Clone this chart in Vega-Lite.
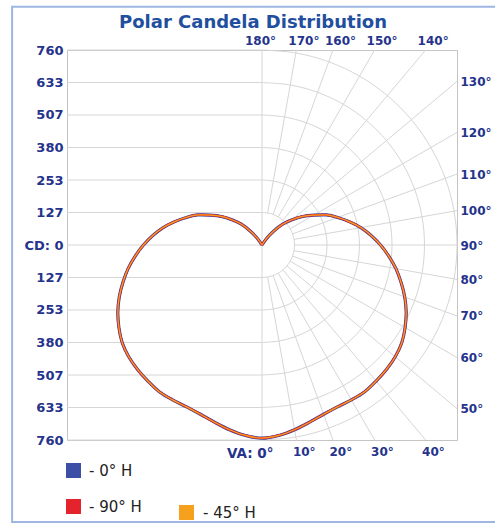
{
  "$schema": "https://vega.github.io/schema/vega-lite/v6.json",
  "width": 390,
  "height": 390,
  "autosize": {"type": "none"},
  "padding": {"left": 67, "top": 50, "right": 38, "bottom": 85},
  "background": "white",
  "config": {
    "view": {"stroke": "#c4c4c4", "strokeWidth": 1},
    "font": "DejaVu Sans",
    "axis": {"labelFont": "DejaVu Sans", "labelFontSize": 12, "labelFontWeight": "bold", "labelColor": "#25338c", "domain": false, "ticks": false, "grid": false, "title": null, "labelFlush": false, "labelOverlap": false}
  },
  "title": {"text": "Polar Candela Distribution", "font": "DejaVu Sans", "fontSize": 18, "fontWeight": "bold", "color": "#1f4f9e", "anchor": "middle", "frame": "group", "dx": -9, "offset": -26},
  "datasets": {
    "hgrid": [{"cd": -760}, {"cd": -633.33}, {"cd": -506.67}, {"cd": -380}, {"cd": -253.33}, {"cd": -126.67}, {"cd": 0}, {"cd": 126.67}, {"cd": 253.33}, {"cd": 380}, {"cd": 506.67}, {"cd": 633.33}, {"cd": 760}],
    "arcs": [
      {"r": 126.67, "o": 0, "x": 0, "y": -126.7}, {"r": 126.67, "o": 10, "x": 22.0, "y": -124.7}, {"r": 126.67, "o": 20, "x": 43.3, "y": -119.0}, {"r": 126.67, "o": 30, "x": 63.3, "y": -109.7}, {"r": 126.67, "o": 40, "x": 81.4, "y": -97.0}, {"r": 126.67, "o": 50, "x": 97.0, "y": -81.4}, {"r": 126.67, "o": 60, "x": 109.7, "y": -63.3}, {"r": 126.67, "o": 70, "x": 119.0, "y": -43.3}, {"r": 126.67, "o": 80, "x": 124.7, "y": -22.0}, {"r": 126.67, "o": 90, "x": 126.7, "y": 0}, {"r": 126.67, "o": 100, "x": 124.7, "y": 22.0}, {"r": 126.67, "o": 110, "x": 119.0, "y": 43.3}, {"r": 126.67, "o": 120, "x": 109.7, "y": 63.3}, {"r": 126.67, "o": 130, "x": 97.0, "y": 81.4}, {"r": 126.67, "o": 140, "x": 81.4, "y": 97.0}, {"r": 126.67, "o": 150, "x": 63.3, "y": 109.7}, {"r": 126.67, "o": 160, "x": 43.3, "y": 119.0}, {"r": 126.67, "o": 170, "x": 22.0, "y": 124.7}, {"r": 126.67, "o": 180, "x": 0, "y": 126.7},
      {"r": 253.33, "o": 0, "x": 0, "y": -253.3}, {"r": 253.33, "o": 10, "x": 44.0, "y": -249.5}, {"r": 253.33, "o": 20, "x": 86.6, "y": -238.1}, {"r": 253.33, "o": 30, "x": 126.7, "y": -219.4}, {"r": 253.33, "o": 40, "x": 162.8, "y": -194.1}, {"r": 253.33, "o": 50, "x": 194.1, "y": -162.8}, {"r": 253.33, "o": 60, "x": 219.4, "y": -126.7}, {"r": 253.33, "o": 70, "x": 238.1, "y": -86.6}, {"r": 253.33, "o": 80, "x": 249.5, "y": -44.0}, {"r": 253.33, "o": 90, "x": 253.3, "y": 0}, {"r": 253.33, "o": 100, "x": 249.5, "y": 44.0}, {"r": 253.33, "o": 110, "x": 238.1, "y": 86.6}, {"r": 253.33, "o": 120, "x": 219.4, "y": 126.7}, {"r": 253.33, "o": 130, "x": 194.1, "y": 162.8}, {"r": 253.33, "o": 140, "x": 162.8, "y": 194.1}, {"r": 253.33, "o": 150, "x": 126.7, "y": 219.4}, {"r": 253.33, "o": 160, "x": 86.6, "y": 238.1}, {"r": 253.33, "o": 170, "x": 44.0, "y": 249.5}, {"r": 253.33, "o": 180, "x": 0, "y": 253.3},
      {"r": 380, "o": 0, "x": 0, "y": -380}, {"r": 380, "o": 10, "x": 66.0, "y": -374.2}, {"r": 380, "o": 20, "x": 130.0, "y": -357.1}, {"r": 380, "o": 30, "x": 190.0, "y": -329.1}, {"r": 380, "o": 40, "x": 244.3, "y": -291.1}, {"r": 380, "o": 50, "x": 291.1, "y": -244.3}, {"r": 380, "o": 60, "x": 329.1, "y": -190.0}, {"r": 380, "o": 70, "x": 357.1, "y": -130.0}, {"r": 380, "o": 80, "x": 374.2, "y": -66.0}, {"r": 380, "o": 90, "x": 380, "y": 0}, {"r": 380, "o": 100, "x": 374.2, "y": 66.0}, {"r": 380, "o": 110, "x": 357.1, "y": 130.0}, {"r": 380, "o": 120, "x": 329.1, "y": 190.0}, {"r": 380, "o": 130, "x": 291.1, "y": 244.3}, {"r": 380, "o": 140, "x": 244.3, "y": 291.1}, {"r": 380, "o": 150, "x": 190.0, "y": 329.1}, {"r": 380, "o": 160, "x": 130.0, "y": 357.1}, {"r": 380, "o": 170, "x": 66.0, "y": 374.2}, {"r": 380, "o": 180, "x": 0, "y": 380},
      {"r": 506.67, "o": 0, "x": 0, "y": -506.7}, {"r": 506.67, "o": 10, "x": 88.0, "y": -499.0}, {"r": 506.67, "o": 20, "x": 173.3, "y": -476.1}, {"r": 506.67, "o": 30, "x": 253.3, "y": -438.8}, {"r": 506.67, "o": 40, "x": 325.7, "y": -388.1}, {"r": 506.67, "o": 50, "x": 388.1, "y": -325.7}, {"r": 506.67, "o": 60, "x": 438.8, "y": -253.3}, {"r": 506.67, "o": 70, "x": 476.1, "y": -173.3}, {"r": 506.67, "o": 80, "x": 499.0, "y": -88.0}, {"r": 506.67, "o": 90, "x": 506.7, "y": 0}, {"r": 506.67, "o": 100, "x": 499.0, "y": 88.0}, {"r": 506.67, "o": 110, "x": 476.1, "y": 173.3}, {"r": 506.67, "o": 120, "x": 438.8, "y": 253.3}, {"r": 506.67, "o": 130, "x": 388.1, "y": 325.7}, {"r": 506.67, "o": 140, "x": 325.7, "y": 388.1}, {"r": 506.67, "o": 150, "x": 253.3, "y": 438.8}, {"r": 506.67, "o": 160, "x": 173.3, "y": 476.1}, {"r": 506.67, "o": 170, "x": 88.0, "y": 499.0}, {"r": 506.67, "o": 180, "x": 0, "y": 506.7},
      {"r": 633.33, "o": 0, "x": 0, "y": -633.3}, {"r": 633.33, "o": 10, "x": 110.0, "y": -623.7}, {"r": 633.33, "o": 20, "x": 216.6, "y": -595.1}, {"r": 633.33, "o": 30, "x": 316.7, "y": -548.5}, {"r": 633.33, "o": 40, "x": 407.1, "y": -485.2}, {"r": 633.33, "o": 50, "x": 485.2, "y": -407.1}, {"r": 633.33, "o": 60, "x": 548.5, "y": -316.7}, {"r": 633.33, "o": 70, "x": 595.1, "y": -216.6}, {"r": 633.33, "o": 80, "x": 623.7, "y": -110.0}, {"r": 633.33, "o": 90, "x": 633.3, "y": 0}, {"r": 633.33, "o": 100, "x": 623.7, "y": 110.0}, {"r": 633.33, "o": 110, "x": 595.1, "y": 216.6}, {"r": 633.33, "o": 120, "x": 548.5, "y": 316.7}, {"r": 633.33, "o": 130, "x": 485.2, "y": 407.1}, {"r": 633.33, "o": 140, "x": 407.1, "y": 485.2}, {"r": 633.33, "o": 150, "x": 316.7, "y": 548.5}, {"r": 633.33, "o": 160, "x": 216.6, "y": 595.1}, {"r": 633.33, "o": 170, "x": 110.0, "y": 623.7}, {"r": 633.33, "o": 180, "x": 0, "y": 633.3},
      {"r": 760, "o": 0, "x": 0, "y": -760}, {"r": 760, "o": 10, "x": 132.0, "y": -748.5}, {"r": 760, "o": 20, "x": 259.9, "y": -714.2}, {"r": 760, "o": 30, "x": 380.0, "y": -658.2}, {"r": 760, "o": 40, "x": 488.5, "y": -582.2}, {"r": 760, "o": 50, "x": 582.2, "y": -488.5}, {"r": 760, "o": 60, "x": 658.2, "y": -380.0}, {"r": 760, "o": 70, "x": 714.2, "y": -259.9}, {"r": 760, "o": 80, "x": 748.5, "y": -132.0}, {"r": 760, "o": 90, "x": 760, "y": 0}, {"r": 760, "o": 100, "x": 748.5, "y": 132.0}, {"r": 760, "o": 110, "x": 714.2, "y": 259.9}, {"r": 760, "o": 120, "x": 658.2, "y": 380.0}, {"r": 760, "o": 130, "x": 582.2, "y": 488.5}, {"r": 760, "o": 140, "x": 488.5, "y": 582.2}, {"r": 760, "o": 150, "x": 380.0, "y": 658.2}, {"r": 760, "o": 160, "x": 259.9, "y": 714.2}, {"r": 760, "o": 170, "x": 132.0, "y": 748.5}, {"r": 760, "o": 180, "x": 0, "y": 760}
    ],
    "spokes": [
      {"va": 10, "x1": 22.0, "y1": -124.7, "x2": 134.0, "y2": -760},
      {"va": 20, "x1": 43.3, "y1": -119.0, "x2": 276.6, "y2": -760},
      {"va": 30, "x1": 63.3, "y1": -109.7, "x2": 438.8, "y2": -760},
      {"va": 40, "x1": 81.4, "y1": -97.0, "x2": 637.7, "y2": -760},
      {"va": 50, "x1": 97.0, "y1": -81.4, "x2": 760, "y2": -637.7},
      {"va": 60, "x1": 109.7, "y1": -63.3, "x2": 760, "y2": -438.8},
      {"va": 70, "x1": 119.0, "y1": -43.3, "x2": 760, "y2": -276.6},
      {"va": 80, "x1": 124.7, "y1": -22.0, "x2": 760, "y2": -134.0},
      {"va": 90, "x1": 126.7, "y1": 0, "x2": 760, "y2": 0},
      {"va": 100, "x1": 124.7, "y1": 22.0, "x2": 760, "y2": 134.0},
      {"va": 110, "x1": 119.0, "y1": 43.3, "x2": 760, "y2": 276.6},
      {"va": 120, "x1": 109.7, "y1": 63.3, "x2": 760, "y2": 438.8},
      {"va": 130, "x1": 97.0, "y1": 81.4, "x2": 760, "y2": 637.7},
      {"va": 140, "x1": 81.4, "y1": 97.0, "x2": 637.7, "y2": 760},
      {"va": 150, "x1": 63.3, "y1": 109.7, "x2": 438.8, "y2": 760},
      {"va": 160, "x1": 43.3, "y1": 119.0, "x2": 276.6, "y2": 760},
      {"va": 170, "x1": 22.0, "y1": 124.7, "x2": 134.0, "y2": 760}
    ],
    "curve": [
      {"o": 0, "va": 150, "- 0° H": 0, "- 90° H": 0, "- 45° H": 0, "x": 0, "y": 0},
      {"o": 1, "va": 145, "- 0° H": 30, "- 90° H": 30, "- 45° H": 30, "x": 17.2, "y": 24.6},
      {"o": 2, "va": 140, "- 0° H": 70, "- 90° H": 70, "- 45° H": 70, "x": 45.0, "y": 53.6},
      {"o": 3, "va": 135, "- 0° H": 116, "- 90° H": 116, "- 45° H": 116, "x": 82.0, "y": 82.0},
      {"o": 4, "va": 130, "- 0° H": 153, "- 90° H": 153, "- 45° H": 153, "x": 117.2, "y": 98.3},
      {"o": 5, "va": 125, "- 0° H": 194, "- 90° H": 194, "- 45° H": 194, "x": 158.9, "y": 111.3},
      {"o": 6, "va": 120, "- 0° H": 233, "- 90° H": 233, "- 45° H": 233, "x": 201.8, "y": 116.5},
      {"o": 7, "va": 115, "- 0° H": 277, "- 90° H": 277, "- 45° H": 277, "x": 251.0, "y": 117.1},
      {"o": 8, "va": 110, "- 0° H": 314, "- 90° H": 314, "- 45° H": 314, "x": 295.1, "y": 107.4},
      {"o": 9, "va": 105, "- 0° H": 352, "- 90° H": 352, "- 45° H": 352, "x": 340.0, "y": 91.1},
      {"o": 10, "va": 100, "- 0° H": 391, "- 90° H": 391, "- 45° H": 391, "x": 385.1, "y": 67.9},
      {"o": 11, "va": 95, "- 0° H": 427, "- 90° H": 427, "- 45° H": 427, "x": 425.4, "y": 37.2},
      {"o": 12, "va": 90, "- 0° H": 462, "- 90° H": 462, "- 45° H": 462, "x": 462, "y": 0},
      {"o": 13, "va": 85, "- 0° H": 496, "- 90° H": 496, "- 45° H": 496, "x": 494.1, "y": -43.2},
      {"o": 14, "va": 80, "- 0° H": 530, "- 90° H": 530, "- 45° H": 530, "x": 521.9, "y": -92.0},
      {"o": 15, "va": 75, "- 0° H": 561, "- 90° H": 561, "- 45° H": 561, "x": 541.9, "y": -145.2},
      {"o": 16, "va": 70, "- 0° H": 592, "- 90° H": 592, "- 45° H": 592, "x": 556.3, "y": -202.5},
      {"o": 17, "va": 65, "- 0° H": 620, "- 90° H": 620, "- 45° H": 620, "x": 561.9, "y": -262.0},
      {"o": 18, "va": 60, "- 0° H": 644, "- 90° H": 644, "- 45° H": 644, "x": 557.7, "y": -322.0},
      {"o": 19, "va": 55, "- 0° H": 665, "- 90° H": 665, "- 45° H": 665, "x": 544.7, "y": -381.4},
      {"o": 20, "va": 50, "- 0° H": 678, "- 90° H": 678, "- 45° H": 678, "x": 519.4, "y": -435.8},
      {"o": 21, "va": 45, "- 0° H": 686, "- 90° H": 686, "- 45° H": 686, "x": 485.1, "y": -485.1},
      {"o": 22, "va": 40, "- 0° H": 692, "- 90° H": 692, "- 45° H": 692, "x": 444.8, "y": -530.1},
      {"o": 23, "va": 35, "- 0° H": 698, "- 90° H": 698, "- 45° H": 698, "x": 400.4, "y": -571.8},
      {"o": 24, "va": 30, "- 0° H": 697, "- 90° H": 697, "- 45° H": 697, "x": 348.5, "y": -603.6},
      {"o": 25, "va": 25, "- 0° H": 696, "- 90° H": 696, "- 45° H": 696, "x": 294.1, "y": -630.8},
      {"o": 26, "va": 20, "- 0° H": 702, "- 90° H": 702, "- 45° H": 702, "x": 240.1, "y": -659.7},
      {"o": 27, "va": 15, "- 0° H": 715, "- 90° H": 715, "- 45° H": 715, "x": 185.1, "y": -690.6},
      {"o": 28, "va": 10, "- 0° H": 731, "- 90° H": 731, "- 45° H": 731, "x": 126.9, "y": -719.9},
      {"o": 29, "va": 5, "- 0° H": 745, "- 90° H": 745, "- 45° H": 745, "x": 64.9, "y": -742.2},
      {"o": 30, "va": 0, "- 0° H": 753, "- 90° H": 753, "- 45° H": 753, "x": 0, "y": -753},
      {"o": 31, "va": 5, "- 0° H": 745, "- 90° H": 745, "- 45° H": 745, "x": -64.9, "y": -742.2},
      {"o": 32, "va": 10, "- 0° H": 731, "- 90° H": 731, "- 45° H": 731, "x": -126.9, "y": -719.9},
      {"o": 33, "va": 15, "- 0° H": 715, "- 90° H": 715, "- 45° H": 715, "x": -185.1, "y": -690.6},
      {"o": 34, "va": 20, "- 0° H": 702, "- 90° H": 702, "- 45° H": 702, "x": -240.1, "y": -659.7},
      {"o": 35, "va": 25, "- 0° H": 696, "- 90° H": 696, "- 45° H": 696, "x": -294.1, "y": -630.8},
      {"o": 36, "va": 30, "- 0° H": 697, "- 90° H": 697, "- 45° H": 697, "x": -348.5, "y": -603.6},
      {"o": 37, "va": 35, "- 0° H": 698, "- 90° H": 698, "- 45° H": 698, "x": -400.4, "y": -571.8},
      {"o": 38, "va": 40, "- 0° H": 692, "- 90° H": 692, "- 45° H": 692, "x": -444.8, "y": -530.1},
      {"o": 39, "va": 45, "- 0° H": 686, "- 90° H": 686, "- 45° H": 686, "x": -485.1, "y": -485.1},
      {"o": 40, "va": 50, "- 0° H": 678, "- 90° H": 678, "- 45° H": 678, "x": -519.4, "y": -435.8},
      {"o": 41, "va": 55, "- 0° H": 665, "- 90° H": 665, "- 45° H": 665, "x": -544.7, "y": -381.4},
      {"o": 42, "va": 60, "- 0° H": 644, "- 90° H": 644, "- 45° H": 644, "x": -557.7, "y": -322.0},
      {"o": 43, "va": 65, "- 0° H": 620, "- 90° H": 620, "- 45° H": 620, "x": -561.9, "y": -262.0},
      {"o": 44, "va": 70, "- 0° H": 592, "- 90° H": 592, "- 45° H": 592, "x": -556.3, "y": -202.5},
      {"o": 45, "va": 75, "- 0° H": 561, "- 90° H": 561, "- 45° H": 561, "x": -541.9, "y": -145.2},
      {"o": 46, "va": 80, "- 0° H": 530, "- 90° H": 530, "- 45° H": 530, "x": -521.9, "y": -92.0},
      {"o": 47, "va": 85, "- 0° H": 496, "- 90° H": 496, "- 45° H": 496, "x": -494.1, "y": -43.2},
      {"o": 48, "va": 90, "- 0° H": 462, "- 90° H": 462, "- 45° H": 462, "x": -462, "y": 0},
      {"o": 49, "va": 95, "- 0° H": 427, "- 90° H": 427, "- 45° H": 427, "x": -425.4, "y": 37.2},
      {"o": 50, "va": 100, "- 0° H": 391, "- 90° H": 391, "- 45° H": 391, "x": -385.1, "y": 67.9},
      {"o": 51, "va": 105, "- 0° H": 352, "- 90° H": 352, "- 45° H": 352, "x": -340.0, "y": 91.1},
      {"o": 52, "va": 110, "- 0° H": 314, "- 90° H": 314, "- 45° H": 314, "x": -295.1, "y": 107.4},
      {"o": 53, "va": 115, "- 0° H": 277, "- 90° H": 277, "- 45° H": 277, "x": -251.0, "y": 117.1},
      {"o": 54, "va": 120, "- 0° H": 233, "- 90° H": 233, "- 45° H": 233, "x": -201.8, "y": 116.5},
      {"o": 55, "va": 125, "- 0° H": 194, "- 90° H": 194, "- 45° H": 194, "x": -158.9, "y": 111.3},
      {"o": 56, "va": 130, "- 0° H": 153, "- 90° H": 153, "- 45° H": 153, "x": -117.2, "y": 98.3},
      {"o": 57, "va": 135, "- 0° H": 116, "- 90° H": 116, "- 45° H": 116, "x": -82.0, "y": 82.0},
      {"o": 58, "va": 140, "- 0° H": 70, "- 90° H": 70, "- 45° H": 70, "x": -45.0, "y": 53.6},
      {"o": 59, "va": 145, "- 0° H": 30, "- 90° H": 30, "- 45° H": 30, "x": -17.2, "y": 24.6},
      {"o": 60, "va": 150, "- 0° H": 0, "- 90° H": 0, "- 45° H": 0, "x": 0, "y": 0}
    ]
  },
  "layer": [
    {
      "data": {"values": [{"frame": "outer"}]},
      "mark": {"type": "rect", "filled": false, "stroke": "#9db6e4", "strokeWidth": 2, "clip": false},
      "encoding": {
        "x": {"datum": -974, "type": "quantitative", "scale": {"domain": [-760, 760], "nice": false, "zero": false}, "axis": null},
        "x2": {"datum": 1100},
        "y": {"datum": 929, "type": "quantitative", "scale": {"domain": [-760, 760], "nice": false, "zero": false}, "axis": null},
        "y2": {"datum": -1080}
      }
    },
    {
      "data": {"name": "hgrid"},
      "mark": {"type": "rule", "color": "#d6d6d6", "strokeWidth": 1},
      "encoding": {
        "x": {"datum": -760, "type": "quantitative", "scale": {"domain": [-760, 760], "nice": false, "zero": false},
          "axis": {"orient": "bottom", "values": [0, 134, 276.6, 438.8, 637.7],
            "labelExpr": "datum.value == 0 ? 'VA: 0°' : format(round(atan(datum.value/760)*180/PI), 'd') + '°'",
            "labelAlign": {"condition": {"test": "datum.value == 0", "value": "right"}, "value": "left"},
            "labelOffset": {"condition": {"test": "datum.value == 0", "value": 11}, "value": -4},
            "labelFontSize": {"condition": {"test": "datum.value == 0", "value": 13.5}, "value": 12},
            "labelPadding": 6}},
        "x2": {"datum": 0},
        "y": {"field": "cd", "type": "quantitative", "scale": {"domain": [-760, 760], "nice": false, "zero": false},
          "axis": {"orient": "left", "values": [-760, -633.33, -506.67, -380, -253.33, -126.67, 0, 126.67, 253.33, 380, 506.67, 633.33, 760],
            "labelExpr": "datum.value == 0 ? 'CD: 0' : format(abs(datum.value), '.0f')", "labelPadding": 4, "labelFontSize": 13}}
      }
    },
    {
      "data": {"name": "arcs"},
      "mark": {"type": "line", "interpolate": "catmull-rom", "color": "#d6d6d6", "strokeWidth": 1},
      "encoding": {
        "x": {"field": "x", "type": "quantitative", "scale": {"domain": [-760, 760], "nice": false, "zero": false}, "axis": null},
        "y": {"field": "y", "type": "quantitative", "scale": {"domain": [-760, 760], "nice": false, "zero": false}, "axis": null},
        "detail": {"field": "r", "type": "nominal"},
        "order": {"field": "o", "type": "quantitative"}
      }
    },
    {
      "data": {"name": "spokes"},
      "mark": {"type": "rule", "color": "#d6d6d6", "strokeWidth": 1},
      "encoding": {
        "x": {"field": "x1", "type": "quantitative", "scale": {"domain": [-760, 760], "nice": false, "zero": false}, "axis": null},
        "x2": {"field": "x2"},
        "y": {"field": "y1", "type": "quantitative", "scale": {"domain": [-760, 760], "nice": false, "zero": false}, "axis": null},
        "y2": {"field": "y2"}
      }
    },
    {
      "data": {"values": [{"line": "center"}]},
      "mark": {"type": "rule", "color": "#d6d6d6", "strokeWidth": 1},
      "encoding": {
        "x": {"datum": 0, "type": "quantitative", "scale": {"domain": [-760, 760], "nice": false, "zero": false},
          "axis": {"orient": "top", "values": [0, 134, 276.6, 438.8, 637.7],
            "labelExpr": "datum.value == 0 ? '180°' : format(round(180 - atan(datum.value/760)*180/PI), 'd') + '°'",
            "labelAlign": "center",
            "labelOffset": {"condition": {"test": "datum.value == 0", "value": -2}, "value": 7},
            "labelPadding": 3}},
        "y": {"datum": -760, "type": "quantitative", "scale": {"domain": [-760, 760], "nice": false, "zero": false},
          "axis": {"orient": "right", "values": [-637.7, -438.8, -276.6, -134, 0, 134, 276.6, 438.8, 637.7],
            "labelExpr": "format(round(90 + atan(datum.value/760)*180/PI), 'd') + '°'", "labelPadding": 3}},
        "y2": {"datum": 760}
      }
    },
    {
      "data": {"name": "curve"},
      "transform": [{"fold": ["- 0° H"], "as": ["plane", "cd"]}],
      "mark": {"type": "line", "interpolate": "catmull-rom", "strokeWidth": 3.2, "color": "#3b4fa6"},
      "encoding": {
        "x": {"field": "x", "type": "quantitative", "scale": {"domain": [-760, 760], "nice": false, "zero": false}, "axis": null},
        "y": {"field": "y", "type": "quantitative", "scale": {"domain": [-760, 760], "nice": false, "zero": false}, "axis": null},
        "order": {"field": "o", "type": "quantitative"}
      }
    },
    {
      "data": {"name": "curve"},
      "transform": [{"fold": ["- 0° H", "- 90° H"], "as": ["plane", "cd"]}],
      "mark": {"type": "line", "interpolate": "catmull-rom", "strokeWidth": 2.2},
      "encoding": {
        "x": {"field": "x", "type": "quantitative", "scale": {"domain": [-760, 760], "nice": false, "zero": false}, "axis": null},
        "y": {"field": "y", "type": "quantitative", "scale": {"domain": [-760, 760], "nice": false, "zero": false}, "axis": null},
        "order": {"field": "o", "type": "quantitative"},
        "color": {"field": "plane", "type": "nominal",
          "scale": {"domain": ["- 0° H", "- 90° H"], "range": ["#3b4fa6", "#e5232c"]},
          "legend": {"title": null, "orient": "none", "direction": "vertical", "columns": 1, "legendX": -1, "legendY": 413, "padding": 0,
            "symbolType": "square", "symbolSize": 1, "symbolStrokeWidth": 14,
            "labelFont": "DejaVu Sans", "labelFontSize": 15, "labelColor": "#222222", "labelOffset": 8, "rowPadding": -50}}
      }
    },
    {
      "data": {"name": "curve"},
      "transform": [{"fold": ["- 45° H"], "as": ["plane", "cd"]}],
      "mark": {"type": "line", "interpolate": "catmull-rom", "strokeWidth": 1.2},
      "encoding": {
        "x": {"field": "x", "type": "quantitative", "scale": {"domain": [-760, 760], "nice": false, "zero": false}, "axis": null},
        "y": {"field": "y", "type": "quantitative", "scale": {"domain": [-760, 760], "nice": false, "zero": false}, "axis": null},
        "order": {"field": "o", "type": "quantitative"},
        "color": {"field": "plane", "type": "nominal",
          "scale": {"domain": ["- 45° H"], "range": ["#f6a11e"]},
          "legend": {"title": null, "orient": "none", "direction": "vertical", "legendX": 112, "legendY": 455, "padding": 0,
            "symbolType": "square", "symbolSize": 1, "symbolStrokeWidth": 14,
            "labelFont": "DejaVu Sans", "labelFontSize": 15, "labelColor": "#222222", "labelOffset": 9}}
      }
    }
  ],
  "resolve": {"scale": {"color": "independent"}, "axis": {"x": "independent", "y": "independent"}, "legend": {"color": "independent"}}
}
